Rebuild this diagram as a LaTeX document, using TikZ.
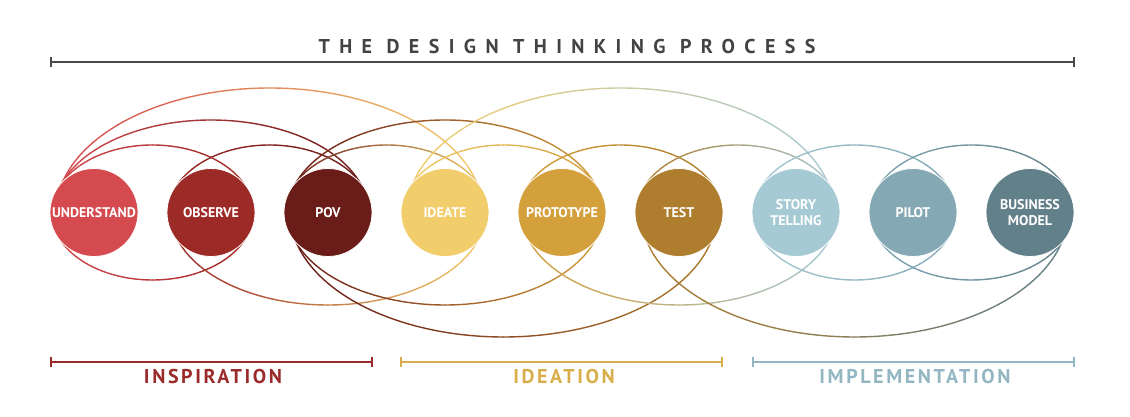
\documentclass[tikz,border=0pt]{standalone}
\usepackage{fontspec}
\setmainfont{PT Sans}
\usepackage{xcolor}
\usepackage{tikz}
\usetikzlibrary{calc, positioning, arrows.meta}

\definecolor{understand}{HTML}{D44A4F}
\definecolor{observe}{HTML}{9C2A26}
\definecolor{pov}{HTML}{6A1C18}
\definecolor{ideate}{HTML}{F2CD6C}
\definecolor{prototype}{HTML}{D3A03C}
\definecolor{test}{HTML}{AE7D2E}
\definecolor{storytelling}{HTML}{A6CAD4}
\definecolor{pilot}{HTML}{84A9B5}
\definecolor{businessmodel}{HTML}{62808A}
\definecolor{inspiration}{HTML}{9B2B2A}
\definecolor{ideation}{HTML}{D8AE4A}
\definecolor{implementation}{HTML}{92B7C3}
\definecolor{rule}{HTML}{4A4A4A}

\pgfdeclarelayer{background}
\pgfsetlayers{background,main}

\begin{document}
\begin{tikzpicture}[x=1pt, y=1pt,
		stage/.style={circle, minimum size=88pt, inner sep=0pt, draw=white, line width=0.8pt, text=white, align=center, font=\fontsize{14}{16}\selectfont\bfseries},
		orbit/.style={line width=1.4pt, line cap=round},
		bar/.style={{Bar[width=10pt]}-{Bar[width=10pt]}, line width=1.6pt},
		phase/.style={anchor=base, font=\fontsize{20}{22}\selectfont\bfseries\addfontfeature{LetterSpace=13}}]

			\useasboundingbox (0,0) rectangle (1130,417);

			\def\gap{117};
			\def\midY{204.5};

			\newcommand{\drawLoop}[5]
			{
				\coordinate (m) at ($ (#1)!0.5!(#2) $);
				\foreach \k in {0,...,35}
				{
					\pgfmathsetmacro{\ta}{180-(#5)*\k*5}
					\pgfmathsetmacro{\tb}{\ta-(#5)*5}
					\pgfmathtruncatemacro{\mix}{50*(1+cos(\ta-(#5)*2.5))}
					\colorlet{seg}{#2!\mix!#1}
					\draw [orbit, draw=seg] ($ (m) + (\ta:#3 and #4) $) arc [start angle=\ta, end angle=\tb, x radius=#3, y radius=#4];
				}
			}

			% the nine stages
			\foreach \name/\word [count=\i from 0] in {understand/UNDERSTAND, observe/OBSERVE, pov/POV, ideate/IDEATE, prototype/PROTOTYPE, test/TEST, storytelling/{STORY\\TELLING}, pilot/PILOT, businessmodel/{BUSINESS\\MODEL}}
			{
				\node [stage, fill=\name] (\name) at (94+\i*\gap, \midY) {\word};
			}

			% loops between the stages
			\begin{pgfonlayer}{background}
				\foreach \src/\dst/\rx/\ry/\side in {
						understand/ideate/213.4/124.5/1, understand/pov/157.3/92.5/1, understand/observe/101/67.5/1,
						observe/pov/101/67.5/1, pov/prototype/157.3/92.5/1, pov/ideate/101/67.5/1,
						ideate/storytelling/213.4/124.5/1, ideate/prototype/101/67.5/1, prototype/test/101/67.5/1,
						test/storytelling/101/67.5/1, storytelling/pilot/101/67.5/1, pilot/businessmodel/101/67.5/1,
						understand/observe/101/67.5/-1, observe/ideate/157.3/92.5/-1, pov/prototype/157.3/92.5/-1,
						pov/test/213.4/124.5/-1, prototype/storytelling/157.3/92.5/-1, test/businessmodel/213.4/124.5/-1,
						storytelling/pilot/101/67.5/-1, pilot/businessmodel/101/67.5/-1}
				{
					\drawLoop{\src}{\dst}{\rx}{\ry}{\side}
				}
			\end{pgfonlayer}

			% title and scale bars
			\coordinate (topL) at (50,355);
			\coordinate (topR) at (1075,355);
			\draw [bar, rule] (topL) -- (topR);
			\node [anchor=base, text=rule!90!black, font=\fontsize{20}{22}\selectfont\bfseries\addfontfeature{LetterSpace=47}] (title) at (567,363) {THE DESIGN THINKING PROCESS};

			\coordinate (inspL) at (50,55);
			\coordinate (inspR) at (373,55);
			\coordinate (ideaL) at (400,55);
			\coordinate (ideaR) at (723,55);
			\coordinate (implL) at (752,55);
			\coordinate (implR) at (1075,55);

			\draw [bar, inspiration] (inspL) -- (inspR);
			\draw [bar, ideation] (ideaL) -- (ideaR);
			\draw [bar, implementation] (implL) -- (implR);

			\node [phase, text=inspiration] (inspText) at (213,33) {INSPIRATION};
			\node [phase, text=ideation] (ideaText) at (564,33) {IDEATION};
			\node [phase, text=implementation] (implText) at (915,33) {IMPLEMENTATION};
		\end{tikzpicture}
\end{document}
